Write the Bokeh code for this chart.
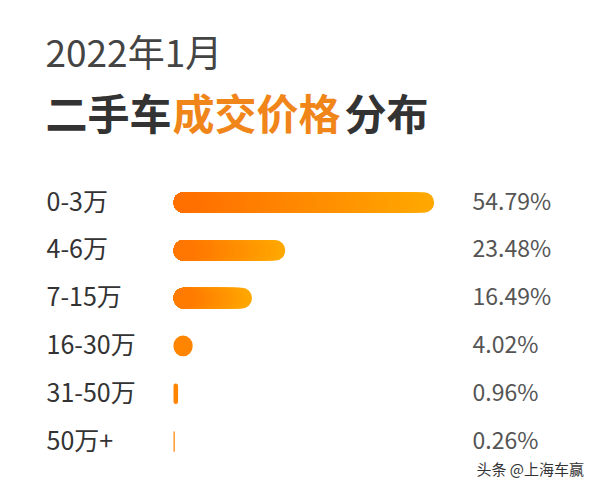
from bokeh.plotting import figure
from bokeh.models import ColumnDataSource, Range1d
from bokeh.core.properties import value
from bokeh.embed import file_html
from bokeh.resources import INLINE

# ---- data ----
title_date = "2022年1月"
title_parts = ["二手车", "成交价格", "分布"]
categories = ["0-3万", "4-6万", "7-15万", "16-30万", "31-50万", "50万+"]
shares = [54.79, 23.48, 16.49, 4.02, 0.96, 0.26]
share_labels = ["54.79%", "23.48%", "16.49%", "4.02%", "0.96%", "0.26%"]
source_note = "头条 @上海车赢"

# ---- layout (pixels, from the picture's top-left) ----
W, H = 600, 492
X0_PX = 173.0          # px where value 0 sits
PXU = 260.6 / 54.79    # px per percentage point
ROW0_PX = 202.0        # px (from top) of first row centre
ROW_STEP = 47.8
BAR_H_PX = 20.6
FONT = "Noto Sans CJK SC"

def px_to_x(px):
    return (px - X0_PX) / PXU

def py_to_y(py):
    return (py - ROW0_PX) / ROW_STEP

p = figure(width=W, height=H, output_backend="svg", toolbar_location=None,
           x_range=Range1d(px_to_x(0), px_to_x(W)),
           y_range=Range1d(py_to_y(H), py_to_y(0)),
           min_border=0, min_border_left=0, min_border_right=0,
           min_border_top=0, min_border_bottom=0)
p.xaxis.visible = False
p.yaxis.visible = False
p.grid.visible = False
p.outline_line_color = None
p.background_fill_color = "white"
p.border_fill_color = "white"

# ---- gradient bars: nested rounded bars, longest (lightest) first ----
N = 40
c0 = (0xFF, 0x6A, 0x00)
c1 = (0xFF, 0xA8, 0x00)
ys, rights, colors = [], [], []
for k in range(N, 0, -1):
    f = k / N
    col = "#%02x%02x%02x" % tuple(int(round(a + (b - a) * f)) for a, b in zip(c0, c1))
    for i, v in enumerate(shares):
        if k != N and v * f * PXU < BAR_H_PX:
            continue
        if k == N and v * PXU < BAR_H_PX:
            col_i = "#ff8400"
        else:
            col_i = col
        ys.append(i)
        rights.append(v * f)
        colors.append(col_i)
src = ColumnDataSource(dict(y=ys, right=rights, color=colors))
p.hbar(y="y", left=0, right="right", height=BAR_H_PX / ROW_STEP, source=src,
       fill_color="color", line_color=None, border_radius=int(BAR_H_PX / 2))

# ---- row labels ----
rows = list(range(len(categories)))
lab_src = ColumnDataSource(dict(y=rows, cat=categories, pct=share_labels,
                                xl=[px_to_x(46)] * len(rows),
                                xr=[px_to_x(472)] * len(rows)))
p.text(x="xl", y="y", text="cat", source=lab_src, text_font=value(FONT),
       text_font_size="25px", text_color="#333333", text_baseline="middle",
       text_align="left", y_offset=-3)
p.text(x="xr", y="y", text="pct", source=lab_src, text_font=value(FONT),
       text_font_size="23px", text_color="#555555", text_baseline="middle",
       text_align="left", y_offset=-3)

# ---- titles ----
def put_text(txt, px, py, size, color, style="normal"):
    p.text(x=[px_to_x(px)], y=[py_to_y(py)], text=[txt], text_font=value(FONT),
           text_font_size=size, text_color=color, text_font_style=style,
           text_baseline="middle", text_align="left")

put_text(title_date, 45, 50, "37px", "#444444")
put_text(title_parts[0], 45, 111, "42px", "#333333", "bold")
put_text(title_parts[1], 172, 111, "42px", "#F08519", "bold")
put_text(title_parts[2], 344, 111, "42px", "#333333", "bold")
put_text(source_note, 476, 468, "15px", "#333333")

open("out.html", "w").write(file_html(p, INLINE))
